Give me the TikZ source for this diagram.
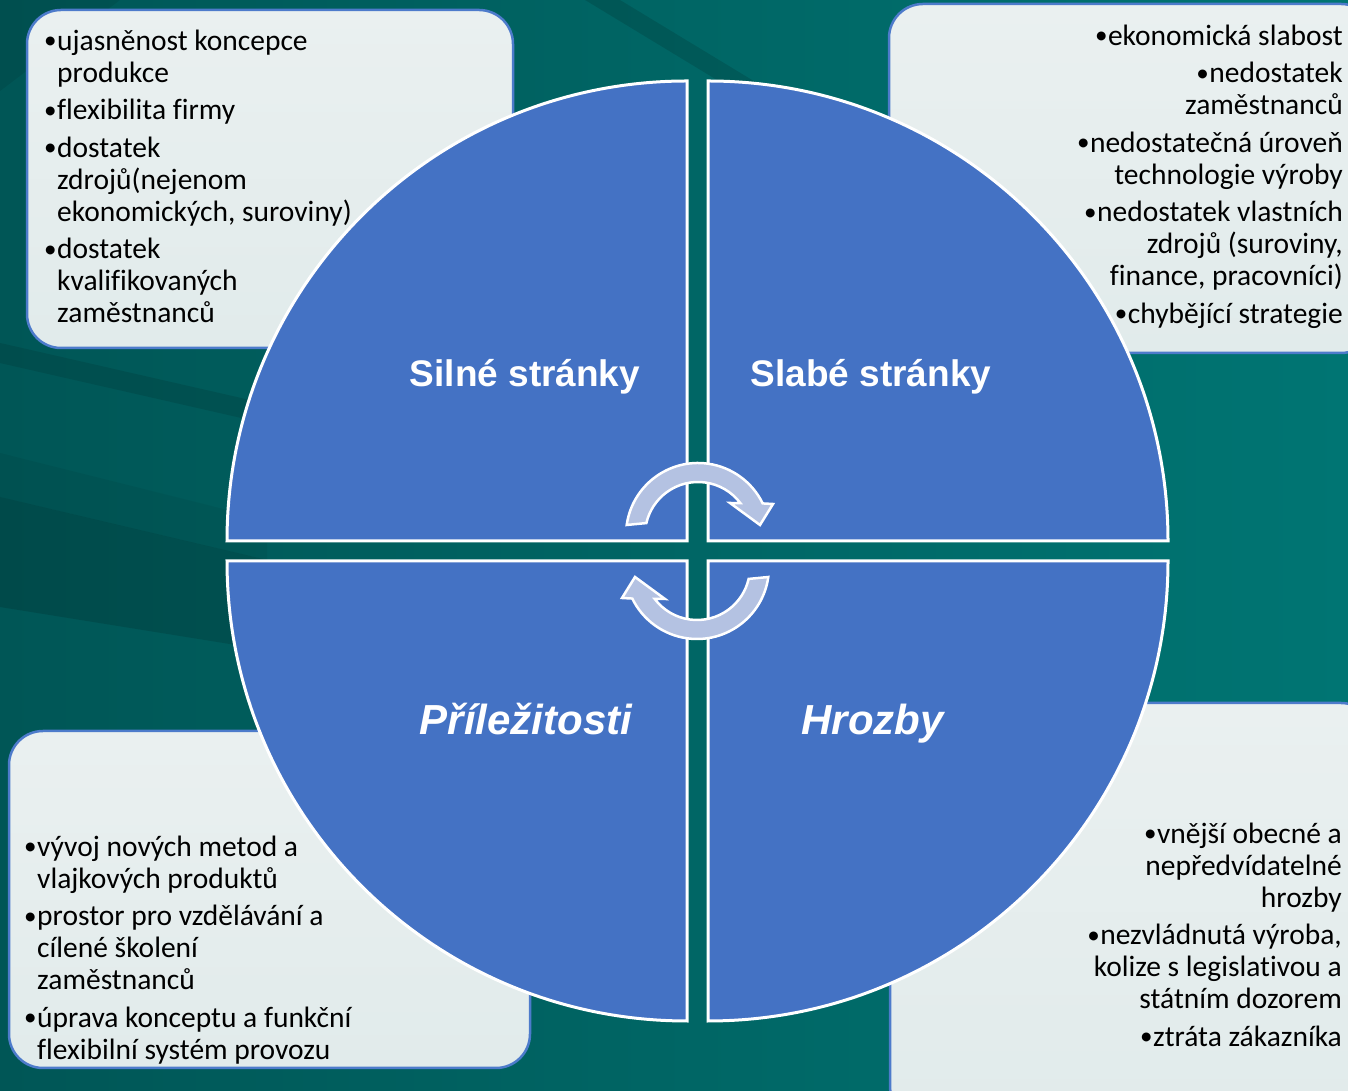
\documentclass[tikz,border=0pt]{standalone}
\usepackage{fontspec}
\setmainfont{Carlito}[Ligatures=NoCommon]
\newfontfamily\headfont{Liberation Sans}
\definecolor{quadblue}{HTML}{4472C4}
\definecolor{boxblue}{HTML}{4D7BCB}
\definecolor{boxtop}{HTML}{EAF0F0}
\definecolor{boxbot}{HTML}{E1EBEB}
\definecolor{arrowfill}{HTML}{B4C2E2}
\definecolor{bgleft}{HTML}{005656}
\definecolor{bgright}{HTML}{007573}
\newcommand\fstrut{\rule{0pt}{27pt}}
\newcommand\bulmark{\raisebox{1.2pt}{\scalebox{0.85}{•}}}
\newcommand\lbul{\llap{\makebox[13pt][l]{\bulmark}}}
\newcommand\rbul{\makebox[13pt][l]{\bulmark}}
\begin{document}
\begin{tikzpicture}[x=1pt,y=1pt,
  infobox/.style={draw=boxblue, line width=2.5pt, rounded corners=34pt, top color=boxtop, bottom color=boxbot},
  quad/.style={fill=quadblue, draw=white, line width=3pt},
  cyclearrow/.style={fill=arrowfill, draw=white, line width=2.5pt, line join=miter},
  bodytext/.style={inner sep=0pt, font=\fontsize{29.5}{32}\selectfont, text=black},
  headtext/.style={inner sep=0pt, text=white, font=\headfont\bfseries\fontsize{37}{40}\selectfont},
  headital/.style={inner sep=0pt, text=white, font=\headfont\bfseries\itshape\fontsize{42}{45}\selectfont},
  streak/.style={fill=black, draw=none}
]
\clip (0,0) rectangle (1348,1091);
% background
\shade[left color=bgleft, right color=bgright] (0,0) rectangle (1348,1091);
\fill[streak, opacity=0.12] (585,1091) -- (620,1091) -- (950,891) -- (915,891) -- cycle;
\fill[streak, opacity=0.05] (0,638) -- (267,571) -- (267,531) -- (0,594) -- cycle;
\fill[streak, opacity=0.13] (0,594) -- (267,531) -- (267,441) -- (0,484) -- cycle;
\fill[streak, opacity=0.10] (0,748) -- (250,691) -- (250,671) -- (0,728) -- cycle;
\fill[streak, opacity=0.08] (0,1091) -- (120,1091) -- (0,1000) -- cycle;
% boxes
\draw[infobox] (27,743) rectangle (513,1081);
\draw[infobox] (889,738) rectangle (1375,1087);
\draw[infobox] (9,23) rectangle (530,360);
\draw[infobox] (890,-29) rectangle (1375,388);
% quadrants
\draw[quad] (687,550) -- ++(-460,0) arc[start angle=180, end angle=90, radius=460pt] -- cycle;
\draw[quad] (708,550) -- ++(0,460) arc[start angle=90, end angle=0, radius=460pt] -- cycle;
\draw[quad] (687,530) -- ++(-460,0) arc[start angle=180, end angle=270, radius=460pt] -- cycle;
\draw[quad] (708,530) -- ++(460,0) arc[start angle=0, end angle=-90, radius=460pt] -- cycle;
% cycle arrows
\begin{scope}[shift={(698,556)}]
\draw[cyclearrow] (172:72) arc[start angle=172, end angle=26, radius=72pt] -- (75,31) -- (62,10) -- (32,32) -- (37:53) arc[start angle=37, end angle=167, radius=53pt] -- cycle;
\end{scope}
\begin{scope}[rotate around={180:(697.5,540)}]
\begin{scope}[shift={(698,556)}]
\draw[cyclearrow] (172:72) arc[start angle=172, end angle=26, radius=72pt] -- (75,31) -- (62,10) -- (32,32) -- (37:53) arc[start angle=37, end angle=167, radius=53pt] -- cycle;
\end{scope}
\end{scope}
% titles
\node[headtext, anchor=base] (silne) at (525,704) {Silné stránky};
\node[headtext, anchor=base] (slabe) at (871,704) {Slabé stránky};
\node[headital, anchor=base] (prilez) at (526,356) {Příležitosti};
\node[headital, anchor=base] (hrozby) at (872.5,356) {Hrozby};
% texts
\node[bodytext, anchor=north west, align=left] (strengths) at (57,1068) {\fstrut\lbul ujasněnost koncepce\\produkce\\[5.5pt]\lbul flexibilita firmy\\[5.5pt]\lbul dostatek\\zdrojů(nejenom\\ekonomických, suroviny)\\[5.5pt]\lbul dostatek\\kvalifikovaných\\zaměstnanců};
\node[bodytext, anchor=north east, align=right] (weak) at (1343,1073) {\fstrut\rbul ekonomická slabost\\[5.5pt]\rbul nedostatek\\zaměstnanců\\[5.5pt]\rbul nedostatečná úroveň\\technologie výroby\\[5.5pt]\rbul nedostatek vlastních\\zdrojů (suroviny,\\finance, pracovníci)\\[5.5pt]\rbul chybějící strategie};
\node[bodytext, anchor=north west, align=left] (opport) at (37,262) {\fstrut\lbul vývoj nových metod a\\vlajkových produktů\\[5.5pt]\lbul prostor pro vzdělávání a\\cílené školení\\zaměstnanců\\[5.5pt]\lbul úprava konceptu a funkční\\flexibilní systém provozu};
\node[bodytext, anchor=north east, align=right] (threats) at (1342,275) {\fstrut\rbul vnější obecné a\\nepředvídatelné\\hrozby\\[5.5pt]\rbul nezvládnutá výroba,\\kolize s legislativou a\\státním dozorem\\[5.5pt]\rbul ztráta zákazníka};
\end{tikzpicture}
\end{document}
